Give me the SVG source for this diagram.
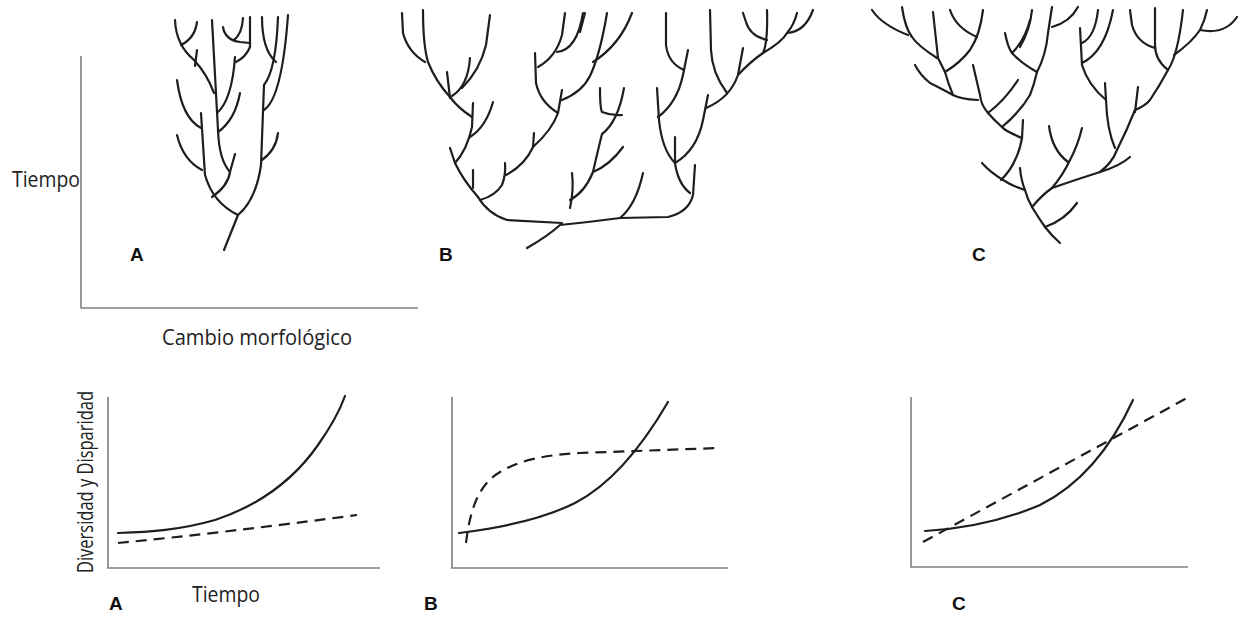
<svg xmlns="http://www.w3.org/2000/svg" width="1240" height="618" viewBox="0 0 1240 618">
<style>
.br{fill:none;stroke:#1e1e1e;stroke-width:2.2;stroke-linecap:round;stroke-linejoin:round}
.ax{fill:none;stroke:#808080;stroke-width:1.6}
.cv{fill:none;stroke:#1e1e1e;stroke-width:2.2;stroke-linecap:round}
.ds{fill:none;stroke:#1e1e1e;stroke-width:2.2;stroke-dasharray:11 7}
.lb{font-family:"Liberation Sans",Arial,sans-serif;font-weight:bold;font-size:19px;fill:#111}
.tx{font-family:"Open Sans","Noto Sans",sans-serif;font-size:21px;fill:#222}
</style>
<rect width="1240" height="618" fill="#fff"/>

<g id="axes-top">
<path class="ax" d="M81,56 V308 H418"/>
<text class="tx" x="12" y="187" textLength="68" lengthAdjust="spacingAndGlyphs">Tiempo</text>
<text class="tx" x="162" y="345" textLength="190" lengthAdjust="spacingAndGlyphs">Cambio morfológico</text>
</g>

<g id="tree-A">
<path class="br" d="M224,250 L238,215"/>
<path class="br" d="M238,215 Q213,203 205,175 L201,113"/>
<path class="br" d="M202,170 Q183,160 177,135"/>
<path class="br" d="M201,128 Q182,118 177,80"/>
<path class="br" d="M212,197 Q228,186 230,172 L235,154"/>
<path class="br" d="M230,172 Q219,160 218,130 L212,20"/>
<path class="br" d="M218,132 Q235,120 240,93"/>
<path class="br" d="M217,113 Q232,100 235,57"/>
<path class="br" d="M175,20 Q176,45 194,60 Q207,74 214,93"/>
<path class="br" d="M197,50 L195,66"/>
<path class="br" d="M197,22 Q195,38 181,45"/>
<path class="br" d="M223,27 Q225,40 240,42 L250,43"/>
<path class="br" d="M243,18 Q242,34 234,40"/>
<path class="br" d="M250,17 L250,47 Q246,57 236,62"/>
<path class="br" d="M238,215 Q256,200 261,165 L264,85 Q276,70 278,17"/>
<path class="br" d="M262,160 Q276,150 278,133"/>
<path class="br" d="M264,110 Q282,98 288,15"/>
<path class="br" d="M262,17 Q262,50 276,62"/>
<text class="lb" x="130" y="261">A</text>
</g>

<g id="tree-B">
<path class="br" d="M527,248 Q548,236 560,225 Q590,222 620,218 L668,217 Q689,212 693,195 L695,165"/>
<path class="br" d="M562,223 L507,220 Q488,214 478,197"/>
<path class="br" d="M570,208 Q574,190 572,173"/>
<path class="br" d="M570,200 Q585,192 593,172 Q610,165 623,147"/>
<path class="br" d="M593,172 Q598,150 602,134 Q618,122 624,88"/>
<path class="br" d="M600,88 Q600,108 602,112 Q612,116 622,115"/>
<path class="br" d="M620,218 Q636,205 643,173"/>
<path class="br" d="M478,197 Q463,180 455,163 L450,148"/>
<path class="br" d="M473,188 L473,170"/>
<path class="br" d="M480,200 Q495,196 502,185 Q506,175 505,163"/>
<path class="br" d="M455,163 Q467,150 472,127 L473,103"/>
<path class="br" d="M470,137 Q486,127 493,102"/>
<path class="br" d="M472,117 Q458,108 450,97 Q436,82 428,62 Q423,45 423,10"/>
<path class="br" d="M447,72 L450,98"/>
<path class="br" d="M452,96 Q468,86 470,58"/>
<path class="br" d="M462,88 Q480,70 486,45 L490,15"/>
<path class="br" d="M425,62 Q408,52 403,33 L402,13"/>
<path class="br" d="M506,175 Q525,165 533,147 Q552,130 558,113 L562,90"/>
<path class="br" d="M533,147 L534,133"/>
<path class="br" d="M558,113 Q540,102 536,83 L535,53"/>
<path class="br" d="M538,67 Q556,57 562,35 L565,13"/>
<path class="br" d="M557,52 Q577,50 583,13"/>
<path class="br" d="M562,100 Q582,92 590,76 Q600,55 607,13"/>
<path class="br" d="M593,62 Q620,45 632,13"/>
<path class="br" d="M580,32 L585,13"/>
<path class="br" d="M690,193 Q678,184 675,163 Q662,150 659,120 L657,88"/>
<path class="br" d="M675,163 Q697,150 703,120 L708,95"/>
<path class="br" d="M675,163 L675,137"/>
<path class="br" d="M658,117 Q677,103 683,75 L688,50"/>
<path class="br" d="M684,70 Q668,63 666,45 L666,13"/>
<path class="br" d="M706,108 Q730,98 738,75 Q750,62 763,53 Q782,42 787,33 Q794,25 797,13"/>
<path class="br" d="M738,75 L743,48"/>
<path class="br" d="M727,93 Q712,73 711,50 L710,10"/>
<path class="br" d="M763,53 Q768,42 767,10"/>
<path class="br" d="M767,40 Q750,36 746,22 L743,13"/>
<path class="br" d="M787,33 Q805,32 813,10"/>
<text class="lb" x="439" y="261">B</text>
</g>

<g id="tree-C">
<path class="br" d="M1060,243 Q1052,236 1045,227 Q1038,217 1032,207"/>
<path class="br" d="M1045,227 Q1065,220 1077,203"/>
<path class="br" d="M1032,207 Q1027,198 1025,190 Q1012,186 1003,180 Q990,172 982,163"/>
<path class="br" d="M1025,190 Q1021,180 1020,168"/>
<path class="br" d="M1001,180 Q1011,170 1015,160 Q1020,150 1022,138 L1023,120"/>
<path class="br" d="M1022,138 Q1005,131 1002,127 Q994,120 988,113 Q981,105 980,95 L973,65"/>
<path class="br" d="M1032,207 Q1042,195 1052,188 Q1063,175 1070,160 Q1078,145 1082,128"/>
<path class="br" d="M1068,162 Q1052,150 1049,126"/>
<path class="br" d="M1052,188 Q1075,180 1100,172 Q1112,163 1117,150 Q1127,130 1135,110 Q1145,106 1150,100 Q1160,85 1168,70"/>
<path class="br" d="M1100,172 Q1120,166 1130,157"/>
<path class="br" d="M1115,148 Q1107,130 1106,100 L1105,83"/>
<path class="br" d="M1106,100 Q1088,85 1082,65 L1080,28"/>
<path class="br" d="M1082,43 Q1095,37 1098,10"/>
<path class="br" d="M1082,63 Q1105,52 1113,10"/>
<path class="br" d="M1135,112 L1138,87"/>
<path class="br" d="M978,100 Q960,99 953,95 Q940,88 930,83 Q920,75 915,65"/>
<path class="br" d="M953,95 Q948,83 945,72 L938,58 L933,12"/>
<path class="br" d="M945,72 Q960,63 970,50 Q980,35 983,10"/>
<path class="br" d="M950,10 Q956,28 977,37"/>
<path class="br" d="M937,58 Q918,46 912,37 Q905,28 902,7"/>
<path class="br" d="M872,10 Q882,25 908,35"/>
<path class="br" d="M988,113 Q1005,100 1018,80"/>
<path class="br" d="M1002,127 Q1020,112 1030,95 Q1034,85 1037,72 Q1046,55 1048,33 L1052,7"/>
<path class="br" d="M1032,10 Q1030,30 1020,47"/>
<path class="br" d="M1005,33 Q1008,48 1012,53 Q1022,64 1037,72"/>
<path class="br" d="M1012,53 Q1025,40 1030,20"/>
<path class="br" d="M1052,27 Q1070,22 1078,7"/>
<path class="br" d="M1168,70 Q1155,60 1155,45 L1155,8"/>
<path class="br" d="M1155,48 Q1137,43 1132,25 L1130,10"/>
<path class="br" d="M1168,70 Q1178,55 1183,10"/>
<path class="br" d="M1174,55 Q1192,42 1200,30 Q1205,20 1207,10"/>
<path class="br" d="M1200,30 Q1225,35 1237,17"/>
<text class="lb" x="972" y="261">C</text>
</g>

<g id="graph-A">
<path class="ax" d="M108,397 V568 H380"/>
<path class="cv" d="M118,533 C150,532 180,530 215,520 C260,505 295,478 318,445 C330,428 340,410 345,396"/>
<path class="ds" d="M118,543 Q230,532 357,515"/>
<text class="tx" transform="translate(93,573) rotate(-90)" textLength="182" lengthAdjust="spacingAndGlyphs">Diversidad y Disparidad</text>
<text class="tx" x="192" y="602" textLength="68" lengthAdjust="spacingAndGlyphs">Tiempo</text>
<text class="lb" x="109" y="610">A</text>
</g>

<g id="graph-B">
<path class="ax" d="M452,397 V568 H728"/>
<path class="cv" d="M459,533 C500,528 545,518 575,503 C610,485 640,450 668,402"/>
<path class="ds" d="M466,543 C470,510 478,485 500,472 C520,460 545,455 580,453 L718,448"/>
<text class="lb" x="424" y="610">B</text>
</g>

<g id="graph-C">
<path class="ax" d="M911,397 V567 H1188"/>
<path class="cv" d="M925,531 C960,529 1000,522 1040,505 C1080,485 1110,450 1133,400"/>
<path class="ds" d="M923,542 L1187,398"/>
<text class="lb" x="952" y="610">C</text>
</g>
</svg>
